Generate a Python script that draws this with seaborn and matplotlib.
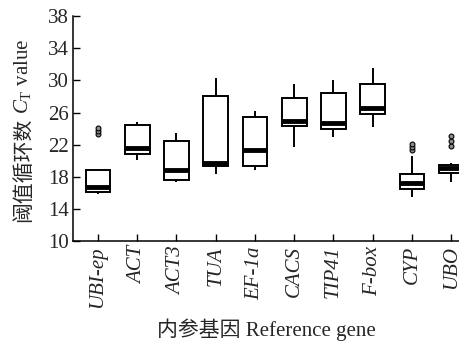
import pandas as pd
import numpy as np
import matplotlib
matplotlib.use('Agg')
import matplotlib.pyplot as plt
import seaborn as sns

genes = ['UBI-ep', 'ACT', 'ACT3', 'TUA', 'EF-1a', 'CACS', 'TIP41', 'F-box', 'CYP', 'UBO']

ubi_ep = [15.85, 15.95, 16.05, 16.1, 16.3, 16.5, 16.75, 17.5, 18.2, 18.8, 23.3, 23.7, 24.1]
act = [20.1, 20.9, 21.6, 24.4, 24.85]
act3 = [17.4, 17.55, 18.9, 22.4, 23.5]
tua = [18.4, 19.3, 19.75, 28.0, 30.3]
ef1a = [18.9, 19.35, 21.35, 25.4, 26.2]
cacs = [21.65, 24.35, 24.95, 27.8, 29.5]
tip41 = [23.0, 24.0, 24.7, 28.45, 30.0]
fbox = [24.2, 25.85, 26.6, 29.6, 31.55]
cyp = [15.45, 15.9, 16.2, 16.4, 16.55, 16.7, 16.9, 17.1, 17.25, 17.6, 17.9, 18.2, 18.4,
       20.6, 21.4, 21.75, 22.1]
ubo = [17.3, 17.8, 18.1, 18.35, 18.5, 18.7, 18.85, 18.95, 19.05, 19.15, 19.25, 19.35, 19.45,
       19.75, 21.8, 22.5, 23.1]

yticks = [10, 14, 18, 22, 26, 30, 34, 38]

values = [ubi_ep, act, act3, tua, ef1a, cacs, tip41, fbox, cyp, ubo]
rows = []
for g, vals in zip(genes, values):
    for v in vals:
        rows.append((g, v))
df = pd.DataFrame(rows, columns=['gene', 'ct'])

sns.set_style('ticks')
plt.rcParams['font.family'] = ['Liberation Serif', 'Noto Sans CJK SC']
plt.rcParams['mathtext.fontset'] = 'custom'
plt.rcParams['mathtext.rm'] = 'Liberation Serif'
plt.rcParams['mathtext.it'] = 'Liberation Serif:italic'

fig = plt.figure(figsize=(4.59, 3.49), dpi=100)
ax = fig.add_axes([0.159, 0.309, 0.841, 0.645])

sns.boxplot(data=df, x='gene', y='ct', order=genes, width=0.63, color='white',
            linecolor='black', linewidth=1.4, showcaps=False, saturation=1,
            medianprops={'linewidth': 3.5},
            flierprops={'marker': 'o', 'markersize': 3.5, 'markerfacecolor': '0.55',
                        'markeredgecolor': 'black', 'markeredgewidth': 0.8},
            ax=ax)

ax.set_ylim(10, 38)
ax.set_yticks(yticks)
ax.set_xlim(-0.636, 9.2)
ax.set_xticks(range(len(genes)))
ax.set_xticklabels(genes, rotation=90, fontstyle='italic', fontsize=15)
ax.tick_params(axis='both', direction='in', length=5, width=1, labelsize=15, color='black')
ax.tick_params(axis='y', pad=3)
ax.set_xlabel('内参基因 Reference gene', fontsize=15, labelpad=8)
ax.set_ylabel('')
for s in ['top', 'right']:
    ax.spines[s].set_visible(False)
for s in ['left', 'bottom']:
    ax.spines[s].set_linewidth(1.1)
    ax.spines[s].set_color('black')

# y label in two pieces: CJK part + mathtext part
t1 = fig.text(0.05, 0.364, '阈值循环数', rotation=90, fontsize=15,
              family=['Noto Sans CJK SC'], ha='center', va='bottom')
fig.canvas.draw()
bb = t1.get_window_extent(fig.canvas.get_renderer())
top = bb.y1 / fig.bbox.height
fig.text(0.05, top + 0.01, r'$\mathit{C}_{\mathrm{T}}$ value', rotation=90, fontsize=15,
         ha='center', va='bottom')

fig.savefig('out.png', dpi=100)
